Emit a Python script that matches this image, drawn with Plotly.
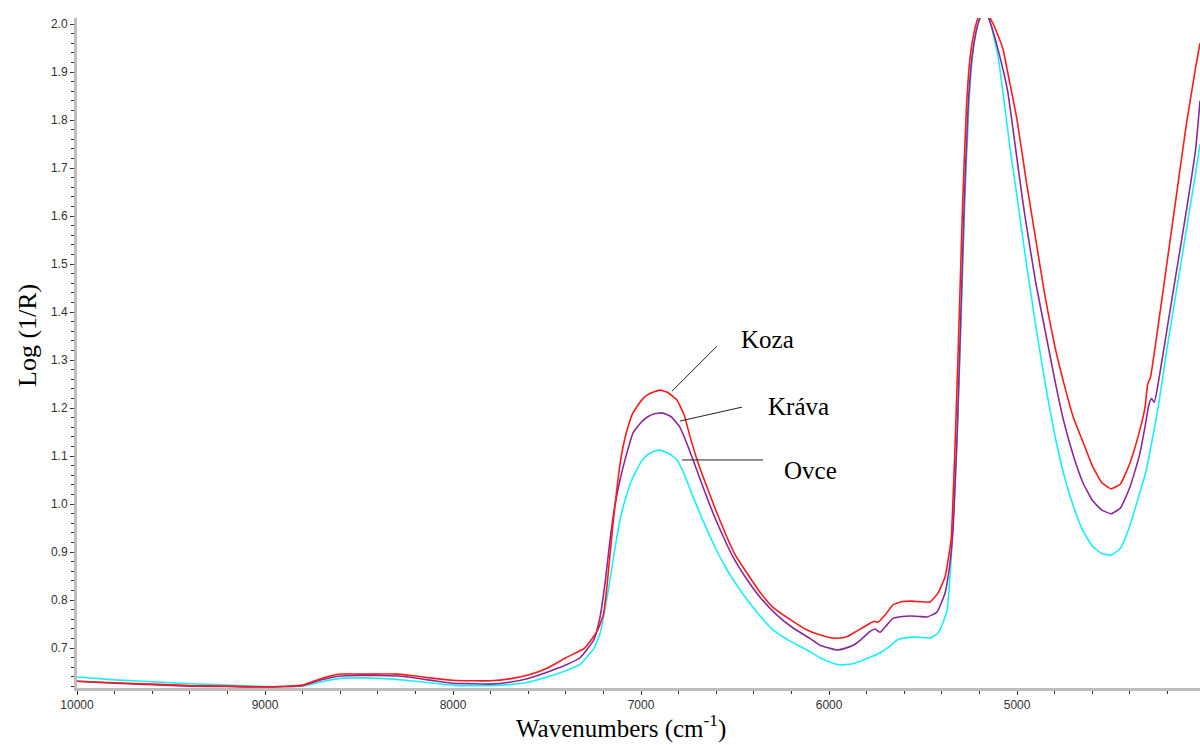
import plotly.graph_objects as go

# ---------------- data ----------------
wn_koza = [10000, 9800, 9600, 9400, 9200, 9000, 8900, 8800, 8700, 8600,
           8500, 8400, 8300, 8200, 8100, 8000, 7900, 7800, 7700, 7600,
           7500, 7400, 7300, 7234, 7200, 7181, 7149, 7120, 7096, 7070,
           7043, 7000, 6968, 6930, 6899, 6860, 6809, 6770, 6739, 6700,
           6649, 6600, 6543, 6500, 6436, 6370, 6298, 6200, 6117, 6050,
           5979, 5940, 5900, 5872, 5820, 5782, 5760, 5739, 5700, 5660,
           5610, 5569, 5520, 5463, 5420, 5383, 5367, 5350, 5330, 5310,
           5290, 5270, 5250, 5230, 5210, 5180, 5140, 5100, 5074, 5050,
           5000, 4950, 4900, 4850, 4800, 4750, 4700, 4650, 4600, 4550,
           4500, 4450, 4400, 4350, 4320, 4305, 4290, 4250, 4200, 4150,
           4100, 4050, 4027]
koza = [0.631, 0.628, 0.625, 0.622, 0.621, 0.619, 0.620, 0.623, 0.637, 0.646,
        0.646, 0.646, 0.646, 0.642, 0.637, 0.633, 0.632, 0.632, 0.636, 0.644,
        0.658, 0.680, 0.700, 0.735, 0.770, 0.830, 0.960, 1.060, 1.119, 1.160,
        1.190, 1.215, 1.227, 1.234, 1.2375, 1.233, 1.217, 1.185, 1.140, 1.090,
        1.035, 0.985, 0.931, 0.895, 0.856, 0.818, 0.785, 0.758, 0.738, 0.728,
        0.721, 0.721, 0.725, 0.731, 0.743, 0.752, 0.756, 0.754, 0.770, 0.790,
        0.797, 0.798, 0.797, 0.796, 0.815, 0.848, 0.883, 0.930, 1.120, 1.360,
        1.620, 1.820, 1.930, 1.980, 2.010, 2.030, 2.010, 1.975, 1.946, 1.900,
        1.800, 1.670, 1.550, 1.430, 1.330, 1.250, 1.180, 1.130, 1.080, 1.045,
        1.032, 1.042, 1.085, 1.150, 1.200, 1.250, 1.265, 1.370, 1.510, 1.650,
        1.790, 1.910, 1.960]

wn_krava = [10000, 9800, 9600, 9400, 9200, 9000, 8900, 8800, 8700, 8600,
            8500, 8400, 8300, 8200, 8100, 8000, 7900, 7800, 7700, 7600,
            7500, 7400, 7324, 7250, 7218, 7190, 7165, 7140, 7112, 7080,
            7043, 7000, 6968, 6930, 6888, 6840, 6793, 6760, 6723, 6670,
            6617, 6560, 6511, 6440, 6367, 6280, 6191, 6100, 6048, 5979,
            5957, 5920, 5872, 5830, 5782, 5755, 5729, 5700, 5660, 5610,
            5569, 5520, 5479, 5426, 5383, 5356, 5340, 5320, 5300, 5280,
            5260, 5240, 5220, 5200, 5170, 5140, 5100, 5050, 5011, 4973,
            4950, 4900, 4850, 4800, 4750, 4700, 4650, 4600, 4550, 4500,
            4450, 4400, 4350, 4320, 4300, 4285, 4270, 4250, 4200, 4150,
            4100, 4050, 4027]
krava = [0.631, 0.627, 0.624, 0.621, 0.620, 0.619, 0.620, 0.622, 0.634, 0.642,
         0.643, 0.643, 0.642, 0.638, 0.632, 0.627, 0.626, 0.625, 0.629, 0.637,
         0.650, 0.665, 0.680, 0.718, 0.765, 0.840, 0.925, 0.995, 1.050, 1.100,
         1.148, 1.170, 1.181, 1.188, 1.190, 1.182, 1.160, 1.130, 1.092, 1.035,
         0.981, 0.930, 0.890, 0.845, 0.806, 0.770, 0.742, 0.720, 0.706, 0.698,
         0.696, 0.699, 0.706, 0.718, 0.735, 0.740, 0.733, 0.745, 0.762, 0.766,
         0.767, 0.766, 0.765, 0.775, 0.815, 0.880, 0.950, 1.130, 1.380, 1.640,
         1.830, 1.930, 1.980, 2.010, 2.030, 2.000, 1.945, 1.860, 1.750, 1.640,
         1.580, 1.460, 1.360, 1.260, 1.170, 1.100, 1.045, 1.008, 0.988, 0.980,
         0.992, 1.035, 1.100, 1.160, 1.205, 1.220, 1.212, 1.250, 1.370, 1.490,
         1.610, 1.740, 1.840]

wn_ovce = [10000, 9800, 9600, 9400, 9200, 9000, 8900, 8800, 8700, 8600,
           8500, 8400, 8300, 8200, 8100, 8000, 7900, 7800, 7700, 7600,
           7500, 7400, 7324, 7250, 7218, 7190, 7165, 7140, 7112, 7080,
           7043, 7000, 6968, 6930, 6899, 6850, 6809, 6770, 6723, 6670,
           6617, 6550, 6473, 6390, 6298, 6200, 6117, 6048, 5990, 5941,
           5880, 5819, 5770, 5729, 5680, 5638, 5600, 5553, 5500, 5463,
           5430, 5410, 5372, 5351, 5335, 5315, 5295, 5275, 5255, 5235,
           5215, 5190, 5170, 5140, 5100, 5037, 5000, 4950, 4900, 4850,
           4800, 4750, 4700, 4650, 4600, 4550, 4500, 4450, 4400, 4350,
           4320, 4300, 4250, 4200, 4150, 4100, 4050, 4027]
ovce = [0.640, 0.634, 0.630, 0.626, 0.623, 0.620, 0.620, 0.621, 0.630, 0.637,
        0.638, 0.637, 0.635, 0.631, 0.627, 0.623, 0.622, 0.622, 0.624, 0.629,
        0.640, 0.653, 0.666, 0.700, 0.731, 0.785, 0.842, 0.905, 0.967, 1.015,
        1.056, 1.088, 1.102, 1.110, 1.1125, 1.105, 1.092, 1.062, 1.015, 0.965,
        0.919, 0.868, 0.821, 0.778, 0.738, 0.713, 0.696, 0.680, 0.670, 0.665,
        0.667, 0.675, 0.683, 0.690, 0.703, 0.717, 0.721, 0.723, 0.722, 0.721,
        0.728, 0.738, 0.779, 0.883, 1.000, 1.180, 1.420, 1.660, 1.840, 1.940,
        1.990, 2.020, 2.030, 2.000, 1.930, 1.740, 1.640, 1.500, 1.370, 1.250,
        1.145, 1.060, 0.995, 0.945, 0.913, 0.897, 0.894, 0.908, 0.955, 1.020,
        1.060, 1.095, 1.200, 1.330, 1.450, 1.570, 1.690, 1.750]

labels = ["Koza", "Kráva", "Ovce"]
colors = ["#ff1a1a", "#8a2a9a", "#19f0f5"]

# label callouts: (line start on curve, line end, label position)
callout_line_x0 = [6835, 6793, 6782]
callout_line_y0 = [1.2354, 1.173, 1.092]
callout_line_x1 = [6596, 6463, 6351]
callout_line_y1 = [1.329, 1.202, 1.092]
callout_text_x = [6325, 6165, 6100]
callout_text_y = [1.342, 1.203, 1.071]

# ---------------- figure ----------------
fig = go.Figure()
series = [(wn_ovce, ovce, labels[2], colors[2]),
          (wn_krava, krava, labels[1], colors[1]),
          (wn_koza, koza, labels[0], colors[0])]
for xs, ys, name, col in series:
    fig.add_trace(go.Scatter(x=xs, y=ys, mode="lines", name=name,
                             line=dict(color=col, width=1.6, shape="spline", smoothing=0.4)))

for i in range(3):
    fig.add_shape(type="line", xref="x", yref="y",
                  x0=callout_line_x0[i], y0=callout_line_y0[i],
                  x1=callout_line_x1[i], y1=callout_line_y1[i],
                  line=dict(color="#222222", width=1))
    fig.add_annotation(x=callout_text_x[i], y=callout_text_y[i], xref="x", yref="y",
                       text=labels[i], showarrow=False,
                       font=dict(family="Liberation Serif", size=25, color="black"))

fig.add_annotation(x=(621 - 77) / 1123, y=(688 - 726) / 670, xref="paper", yref="paper",
                   text="Wavenumbers (cm<sup>-1</sup>)", showarrow=False,
                   xanchor="center", yanchor="middle", borderpad=0,
                   font=dict(family="Liberation Serif", size=25, color="black"))
fig.add_annotation(x=(27 - 77) / 1123, y=(688 - 336) / 670, xref="paper", yref="paper",
                   text="Log (1/R)", showarrow=False, textangle=-90,
                   xanchor="center", yanchor="middle",
                   font=dict(family="Liberation Serif", size=26, color="black"))

tickfont = dict(family="Liberation Sans", size=12, color="#333333")
fig.update_layout(
    width=1200, height=745,
    margin=dict(l=77, r=0, t=18, b=57),
    paper_bgcolor="white", plot_bgcolor="white",
    showlegend=False,
    xaxis=dict(range=[10000, 4027], tick0=0, dtick=1000, tickformat="d",
               showgrid=False, zeroline=False, showline=True,
               linecolor="#bdbdbd", linewidth=3,
               ticks="outside", ticklen=4, tickwidth=1, tickcolor="#333333",
               tickfont=tickfont,
               minor=dict(dtick=200, ticks="outside", ticklen=3, tickcolor="#333333", showgrid=False)),
    yaxis=dict(range=[0.617, 2.0125], tick0=0, dtick=0.1, tickformat=".1f",
               showgrid=False, zeroline=False, showline=True,
               linecolor="#bdbdbd", linewidth=3,
               ticks="outside", ticklen=4, tickwidth=1, tickcolor="#333333",
               tickfont=tickfont,
               minor=dict(dtick=0.02, ticks="outside", ticklen=3, tickcolor="#333333", showgrid=False)),
)

fig.write_html("out.html")
